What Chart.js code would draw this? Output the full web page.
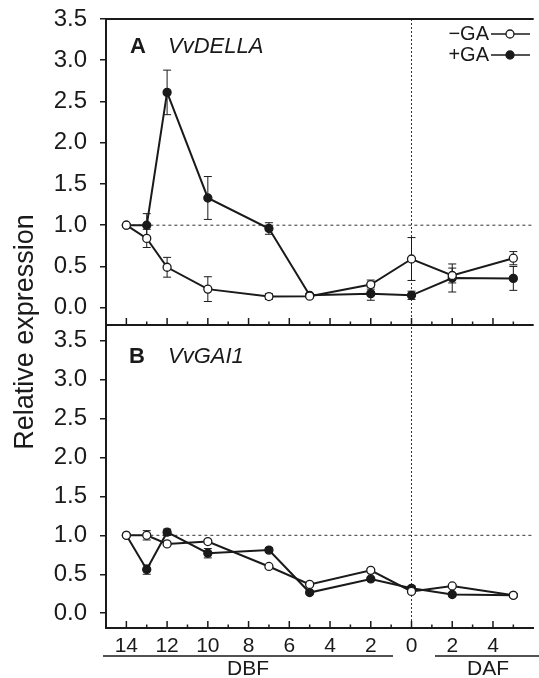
<!DOCTYPE html>
<html>
<head>
<meta charset="utf-8">
<script src="https://cdn.jsdelivr.net/npm/chart.js@4.4.1/dist/chart.umd.min.js"></script>
<style>
body { margin: 0; background: #fff; }
#chart { display: block; }
</style>
</head>
<body>
<canvas id="chart" width="539" height="678"></canvas>
<script>
// days relative to flowering: negative = before (DBF), positive = after (DAF)
var days = [-14, -13, -12, -10, -7, -5, -2, 0, 2, 5];

// panel A - VvDELLA
var dellaMinusGA = [1.0, 0.84, 0.49, 0.225, 0.135, 0.14, 0.28, 0.59, 0.39, 0.60];
var dellaMinusErr = [0, 0.11, 0.12, 0.15, 0.035, 0.02, 0.055, 0.26, 0.09, 0.08];
var dellaPlusGA = [1.0, 1.0, 2.61, 1.33, 0.96, 0.15, 0.17, 0.15, 0.36, 0.355];
var dellaPlusErr = [0, 0.14, 0.27, 0.26, 0.07, 0.02, 0.08, 0.05, 0.17, 0.145];

// panel B - VvGAI1
var gaiMinusGA = [1.0, 1.0, 0.89, 0.92, 0.60, 0.37, 0.55, 0.28, 0.35, 0.23];
var gaiMinusErr = [0, 0.06, 0.02, 0.02, 0.02, 0.02, 0.02, 0.02, 0.02, 0.02];
var gaiPlusGA = [1.0, 0.56, 1.04, 0.77, 0.81, 0.265, 0.44, 0.32, 0.24, 0.23];
var gaiPlusErr = [0, 0.06, 0.04, 0.06, 0.03, 0.02, 0.02, 0.03, 0.02, 0.02];

var yTicks = [0, 0.5, 1.0, 1.5, 2.0, 2.5, 3.0, 3.5];
var xTickLabels = [-14, -12, -10, -8, -6, -4, -2, 0, 2, 4];
var xMinorTicks = [-14, -13, -12, -11, -10, -9, -8, -7, -6, -5, -4, -3, -2, -1, 0, 1, 2, 3, 4, 5];

var INK = '#1a1a1a';
var FONT = '"Liberation Sans", Arial, Helvetica, sans-serif';

function toPoints(values) {
    return days.map(function(d, i) { return { x: d, y: values[i] }; });
}

function series(label, values, errors, axis, filled) {
    return {
        label: label,
        data: toPoints(values),
        errors: errors,
        yAxisID: axis,
        borderColor: INK,
        borderWidth: 2,
        pointRadius: 4,
        pointBorderWidth: 1.3,
        pointBorderColor: INK,
        pointBackgroundColor: filled ? INK : '#fff',
        tension: 0
    };
}

function yAxis(min, max, weight) {
    return {
        type: 'linear',
        position: 'left',
        stack: 'panels',
        stackWeight: weight,
        min: min,
        max: max,
        afterBuildTicks: function(scale) {
            scale.ticks = yTicks.map(function(v) { return { value: v }; });
        },
        afterFit: function(scale) {
            scale.width = 106;
            scale.paddingTop = 0;
            scale.paddingBottom = 0;
        },
        ticks: {
            color: INK,
            padding: 13,
            autoSkip: false,
            font: { family: FONT, size: 24 },
            callback: function(v) { return Number(v).toFixed(1); }
        },
        grid: { drawOnChartArea: false, drawTicks: true, tickLength: 6, color: INK, lineWidth: 1.5 },
        border: { color: INK, width: 2 }
    };
}

var decor = {
    id: 'decor',
    beforeDatasetsDraw: function(chart) {
        var ctx = chart.ctx;
        var area = chart.chartArea;
        var x = chart.scales.x;
        ctx.save();
        // reference lines
        ctx.strokeStyle = '#333';
        ctx.lineWidth = 1;
        ctx.setLineDash([3, 3]);
        ['yA', 'yB'].forEach(function(id) {
            var py = chart.scales[id].getPixelForValue(1);
            ctx.beginPath();
            ctx.moveTo(x.getPixelForValue(-14), py);
            ctx.lineTo(area.right, py);
            ctx.stroke();
        });
        ctx.setLineDash([2, 2]);
        ctx.beginPath();
        ctx.moveTo(x.getPixelForValue(0), area.top);
        ctx.lineTo(x.getPixelForValue(0), area.bottom);
        ctx.stroke();
        ctx.setLineDash([]);

        // error bars
        ctx.strokeStyle = INK;
        ctx.lineWidth = 1;
        chart.data.datasets.forEach(function(ds) {
            var y = chart.scales[ds.yAxisID];
            ds.data.forEach(function(p, i) {
                var e = ds.errors[i];
                if (!e) return;
                var px = x.getPixelForValue(p.x);
                var top = y.getPixelForValue(p.y + e);
                var bot = y.getPixelForValue(p.y - e);
                ctx.beginPath();
                ctx.moveTo(px, top); ctx.lineTo(px, bot);
                ctx.moveTo(px - 4, top); ctx.lineTo(px + 4, top);
                ctx.moveTo(px - 4, bot); ctx.lineTo(px + 4, bot);
                ctx.stroke();
            });
        });
        ctx.restore();
    },
    afterDraw: function(chart) {
        var ctx = chart.ctx;
        var area = chart.chartArea;
        var x = chart.scales.x;
        var yA = chart.scales.yA;
        ctx.save();
        ctx.strokeStyle = INK;
        ctx.fillStyle = INK;

        // frame: top line and panel divider
        ctx.lineWidth = 2;
        ctx.beginPath();
        ctx.moveTo(area.left, area.top); ctx.lineTo(area.right, area.top);
        ctx.moveTo(area.left, yA.bottom); ctx.lineTo(area.right, yA.bottom);
        ctx.stroke();

        // inward x ticks on both panels
        ctx.lineWidth = 1.5;
        [yA.bottom, area.bottom].forEach(function(base) {
            xMinorTicks.forEach(function(d) {
                var px = x.getPixelForValue(d);
                var len = d % 2 === 0 ? 7 : 3.5;
                ctx.beginPath();
                ctx.moveTo(px, base); ctx.lineTo(px, base - len);
                ctx.stroke();
            });
        });

        // panel labels
        ctx.textBaseline = 'alphabetic';
        ctx.textAlign = 'left';
        ctx.font = 'bold 22px ' + FONT;
        ctx.fillText('A', 130, 53);
        ctx.fillText('B', 129, 363);
        ctx.font = 'italic 22px ' + FONT;
        ctx.fillText('VvDELLA', 168, 53);
        ctx.fillText('VvGAI1', 168, 363);

        // legend
        ctx.font = '20px ' + FONT;
        ctx.textAlign = 'right';
        ctx.textBaseline = 'middle';
        [['\u2212GA', '#fff', 34], ['+GA', INK, 55]].forEach(function(row) {
            ctx.fillStyle = INK;
            ctx.fillText(row[0], 489, row[2]);
            ctx.lineWidth = 1.5;
            ctx.beginPath();
            ctx.moveTo(491, row[2]); ctx.lineTo(530, row[2]);
            ctx.stroke();
            ctx.beginPath();
            ctx.arc(510, row[2], 4, 0, Math.PI * 2);
            ctx.fillStyle = row[1];
            ctx.fill();
            ctx.lineWidth = 1.3;
            ctx.stroke();
        });

        // DBF / DAF brackets
        ctx.fillStyle = INK;
        ctx.lineWidth = 1.5;
        ctx.beginPath();
        ctx.moveTo(103, 656); ctx.lineTo(393, 656);
        ctx.moveTo(435, 656); ctx.lineTo(539, 656);
        ctx.stroke();
        ctx.font = '21px ' + FONT;
        ctx.textAlign = 'center';
        ctx.textBaseline = 'alphabetic';
        ctx.fillText('DBF', 248, 675);
        ctx.fillText('DAF', 488, 675);

        // y title
        ctx.translate(26, 332);
        ctx.rotate(-Math.PI / 2);
        ctx.textBaseline = 'middle';
        ctx.font = '27px ' + FONT;
        ctx.fillText('Relative expression', 0, 0);
        ctx.restore();
    }
};

new Chart(document.getElementById('chart'), {
    type: 'line',
    data: {
        datasets: [
            series('-GA', dellaMinusGA, dellaMinusErr, 'yA', false),
            series('-GA', gaiMinusGA, gaiMinusErr, 'yB', false),
            series('+GA', dellaPlusGA, dellaPlusErr, 'yA', true),
            series('+GA', gaiPlusGA, gaiPlusErr, 'yB', true)
        ]
    },
    options: {
        responsive: false,
        animation: false,
        layout: { padding: { top: 19, right: 0, left: 0, bottom: 0 } },
        plugins: { legend: { display: false }, tooltip: { enabled: false } },
        scales: {
            x: {
                type: 'linear',
                min: -15,
                max: 6,
                afterBuildTicks: function(scale) {
                    scale.ticks = xTickLabels.map(function(v) { return { value: v }; });
                },
                afterFit: function(scale) { scale.height = 50; },
                ticks: {
                    color: INK,
                    padding: 6,
                    autoSkip: false,
                    maxRotation: 0,
                    font: { family: FONT, size: 21 },
                    callback: function(v) { return String(Math.abs(v)); }
                },
                grid: { display: false, drawTicks: false },
                border: { color: INK, width: 2 }
            },
            yB: yAxis(-0.19, 3.7, 303),
            yA: yAxis(-0.21, 3.5, 306)
        }
    },
    plugins: [decor]
});
</script>
</body>
</html>
